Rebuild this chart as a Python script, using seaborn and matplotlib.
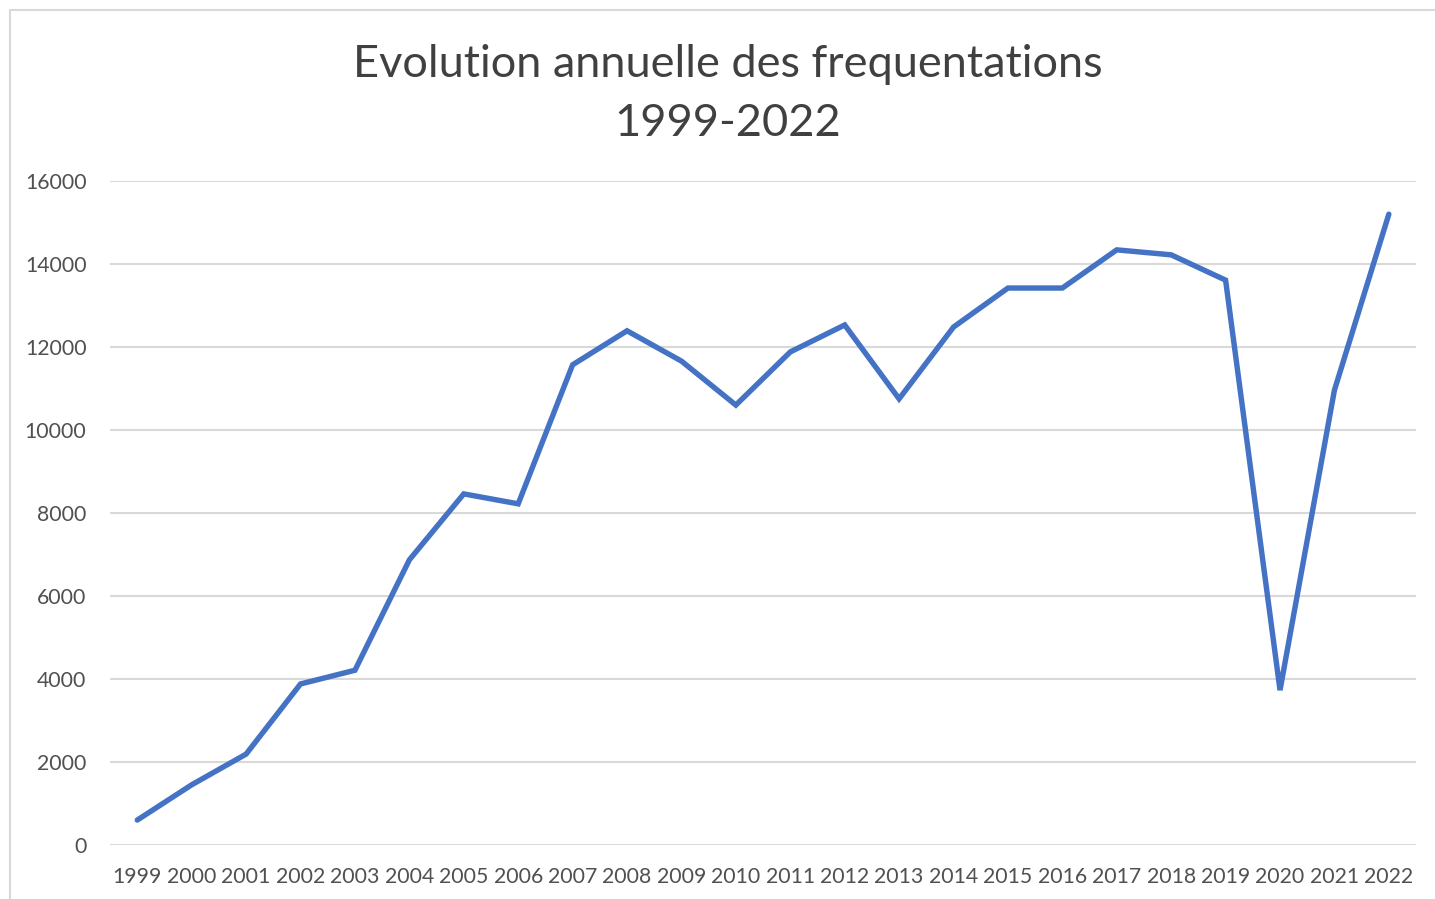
import matplotlib
matplotlib.use("Agg")
import matplotlib.pyplot as plt
from matplotlib.patches import Rectangle
import seaborn as sns
import pandas as pd

# data
years = list(range(1999, 2023))
visits = [600, 1450, 2190, 3880, 4210, 6870, 8460, 8220, 11570, 12390,
          11660, 10600, 11880, 12530, 10750, 12480, 13420, 13420, 14340, 14220,
          13610, 3730, 10960, 15200]
y_ticks = [0, 2000, 4000, 6000, 8000, 10000, 12000, 14000, 16000]
title = "Evolution annuelle des frequentations\n1999-2022"

df = pd.DataFrame({"year": years, "visits": visits})

sns.set_theme(style="white")
plt.rcParams["font.family"] = ["Lato", "DejaVu Sans"]

fig = plt.figure(figsize=(14.35, 8.99), dpi=100)
ax = fig.add_axes([0.0767, 0.0601, 0.9101, 0.7386])

sns.lineplot(data=df, x="year", y="visits", ax=ax, color="#4472C4",
             linewidth=3.9, solid_capstyle="round", solid_joinstyle="miter")

ax.set_xlim(years[0] - 0.5, years[-1] + 0.5)
ax.set_ylim(0, 16000)
ax.set_xticks(years)
ax.set_xticklabels([str(y) for y in years])
ax.set_yticks(y_ticks)
ax.set_yticklabels([str(t) for t in y_ticks])
ax.yaxis.grid(True, color="#D9D9D9", linewidth=1.5)
ax.set_axisbelow(True)
for s in ax.spines.values():
    s.set_visible(False)
ax.tick_params(axis="both", length=0, labelsize=15.3, labelcolor="#505050")
ax.tick_params(axis="x", pad=16)
ax.tick_params(axis="y", pad=17)
ax.set_xlabel("")
ax.set_ylabel("")

fig.text(0.507, 0.951, title, ha="center", va="top", fontsize=32.5,
         color="#404040", linespacing=1.55)

# chart frame like the spreadsheet chart area
fig.patches.append(Rectangle((10 / 1435, -0.2), 1.2, 1.2 - 10 / 899,
                             transform=fig.transFigure, fill=False,
                             edgecolor="#D9D9D9", linewidth=1.5))

fig.savefig("out.png", dpi=100)
